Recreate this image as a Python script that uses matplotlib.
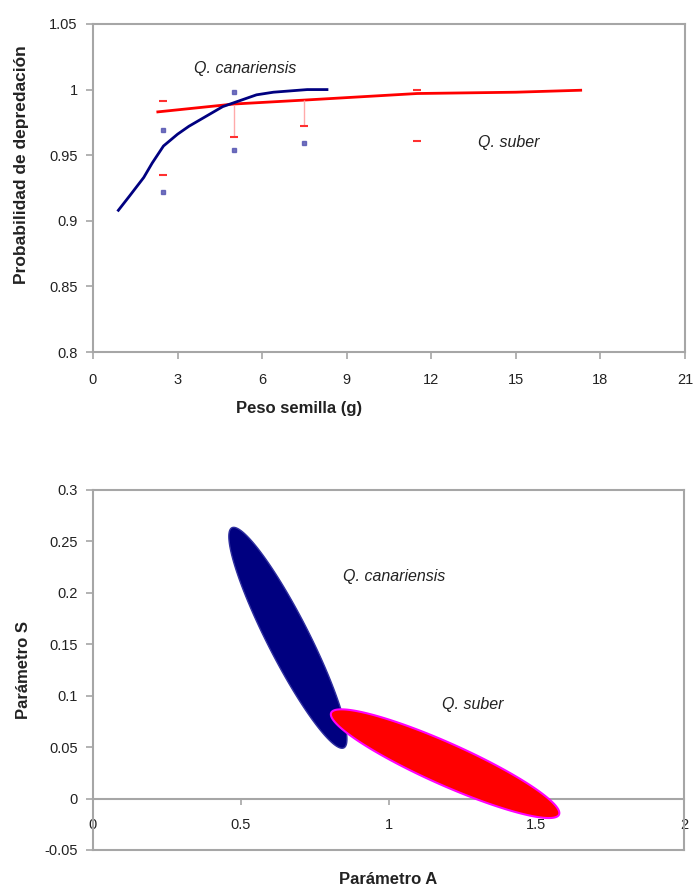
import numpy as np
import matplotlib
matplotlib.use("Agg")
import matplotlib.pyplot as plt

plt.rcParams["font.family"] = ["Liberation Sans", "DejaVu Sans"]

# --- panel superior: probabilidad de depredación vs peso de semilla ---
can_x = [0.9, 1.3, 1.8, 2.1, 2.5, 3.0, 3.4, 3.8, 4.2, 4.6, 5.0, 5.4,
         5.8, 6.4, 7.0, 7.6, 8.3]
can_y = [0.908, 0.919, 0.933, 0.944, 0.957, 0.966, 0.972, 0.977, 0.982,
         0.987, 0.990, 0.993, 0.996, 0.998, 0.999, 1.000, 1.000]
sub_x = [2.3, 5.0, 7.5, 9.1, 11.5, 15.0, 17.3]
sub_y = [0.983, 0.989, 0.992, 0.994, 0.997, 0.998, 0.9995]

can_obs_x = [2.5, 2.5, 5.0, 5.0, 7.5]
can_obs_y = [0.969, 0.922, 0.998, 0.954, 0.959]
sub_obs_x = [2.5, 2.5, 5.0, 7.5, 11.5, 11.5]
sub_obs_y = [0.991, 0.935, 0.964, 0.972, 1.000, 0.961]

# residuos marcados (x, predicho, observado)
res_x = [5.0, 7.5]
res_pred = [0.988, 0.992]
res_obs = [0.964, 0.972]

peso_ticks = [0, 3, 6, 9, 12, 15, 18, 21]
prob_ticks = [0.8, 0.85, 0.9, 0.95, 1.0, 1.05]

# --- panel inferior: regiones de confianza de los parámetros A y S ---
# extremos del eje mayor y semieje menor (en unidades de datos)
can_end1 = (0.470, 0.2633)
can_end2 = (0.849, 0.0493)
can_minor = (0.0635, 0.0092)
sub_end1 = (0.806, 0.0834)
sub_end2 = (1.577, -0.0156)
sub_minor = (0.0290, 0.0185)

a_ticks = [0, 0.5, 1, 1.5, 2]
s_ticks = [-0.05, 0, 0.05, 0.1, 0.15, 0.2, 0.25, 0.3]

GRIS = "#a6a6a6"
TXT = "#222222"


def contorno(e1, e2, minor, n=200):
    c = (np.array(e1) + np.array(e2)) / 2
    major = (np.array(e2) - np.array(e1)) / 2
    t = np.linspace(0, 2 * np.pi, n)
    pts = c + np.outer(np.cos(t), major) + np.outer(np.sin(t), np.array(minor))
    return pts[:, 0], pts[:, 1]


def fmt(v):
    return f"{v:g}"


fig = plt.figure(figsize=(6.95, 8.88), dpi=100)

# ---------- panel superior ----------
ax1 = fig.add_axes([0.1338, 0.6036, 0.8518, 0.3694])
ax1.plot(sub_x, sub_y, color="#ff0000", lw=2)
ax1.plot(can_x, can_y, color="#000080", lw=2, solid_joinstyle="round")
ax1.vlines(res_x, res_obs, res_pred, color="#ffaaaa", lw=1)
ax1.plot(sub_obs_x, sub_obs_y, linestyle="none", marker="_", ms=6,
         mew=1.5, color="#ff3030")
ax1.plot(can_obs_x, can_obs_y, linestyle="none", marker="s", ms=3.5,
         color="#5050b0", alpha=0.8)
ax1.text(5.4, 1.016, "Q. canariensis", style="italic", fontsize=11.5,
         ha="center", va="center", color=TXT)
ax1.text(14.75, 0.960, "Q. suber", style="italic", fontsize=11.5,
         ha="center", va="center", color=TXT)

ax1.set_xlim(0, 21)
ax1.set_ylim(0.8, 1.05)
ax1.set_xticks(peso_ticks)
ax1.set_xticklabels([fmt(v) for v in peso_ticks])
ax1.set_yticks(prob_ticks)
ax1.set_yticklabels([fmt(v) for v in prob_ticks])
ax1.tick_params(axis="x", length=5, pad=10, labelsize=10.5, colors=GRIS,
                labelcolor=TXT, width=1.2)
ax1.tick_params(axis="y", length=5, pad=6, labelsize=10.5, colors=GRIS,
                labelcolor=TXT, width=1.2)
ax1.set_xlabel("Peso semilla (g)", fontsize=12, fontweight="bold", color=TXT)
ax1.set_ylabel("Probabilidad de depredación", fontsize=12.5,
               fontweight="bold", color=TXT)
ax1.xaxis.set_label_coords(0.348, -0.15)
ax1.yaxis.set_label_coords(-0.108, 0.57)
for sp in ax1.spines.values():
    sp.set_color(GRIS)
    sp.set_linewidth(1.5)

# ---------- panel inferior ----------
ax2 = fig.add_axes([0.1338, 0.0428, 0.8504, 0.4054])
bx, by = contorno(can_end1, can_end2, can_minor)
ax2.fill(bx, by, facecolor="#000080", edgecolor="#3030a0", lw=1)
rx, ry = contorno(sub_end1, sub_end2, sub_minor)
ax2.fill(rx, ry, facecolor="#ff0000", edgecolor="#ff00ff", lw=1.5,
         zorder=3, clip_on=False)
ax2.text(1.02, 0.216, "Q. canariensis", style="italic", fontsize=11.5,
         ha="center", va="center", color=TXT)
ax2.text(1.285, 0.0915, "Q. suber", style="italic", fontsize=11.5,
         ha="center", va="center", color=TXT)

ax2.set_xlim(0, 2)
ax2.set_ylim(-0.05, 0.3)
ax2.set_xticks(a_ticks)
ax2.set_xticklabels([fmt(v) for v in a_ticks])
ax2.set_yticks(s_ticks)
ax2.set_yticklabels([fmt(v) for v in s_ticks])
ax2.spines["bottom"].set_position(("data", 0))
ax2.axhline(-0.05, color=GRIS, lw=1.5, clip_on=False)
ax2.tick_params(axis="x", length=4, pad=10, labelsize=10.5, colors=GRIS,
                labelcolor=TXT, width=1.2)
ax2.tick_params(axis="y", length=5, pad=6, labelsize=10.5, colors=GRIS,
                labelcolor=TXT, width=1.2)
ax2.set_xlabel("Parámetro A", fontsize=12, fontweight="bold", color=TXT)
ax2.set_ylabel("Parámetro S", fontsize=12, fontweight="bold", color=TXT)
ax2.xaxis.set_label_coords(0.5, -0.06)
ax2.yaxis.set_label_coords(-0.105, 0.5)
for sp in ax2.spines.values():
    sp.set_color(GRIS)
    sp.set_linewidth(1.5)

fig.savefig("out.png", dpi=100)
